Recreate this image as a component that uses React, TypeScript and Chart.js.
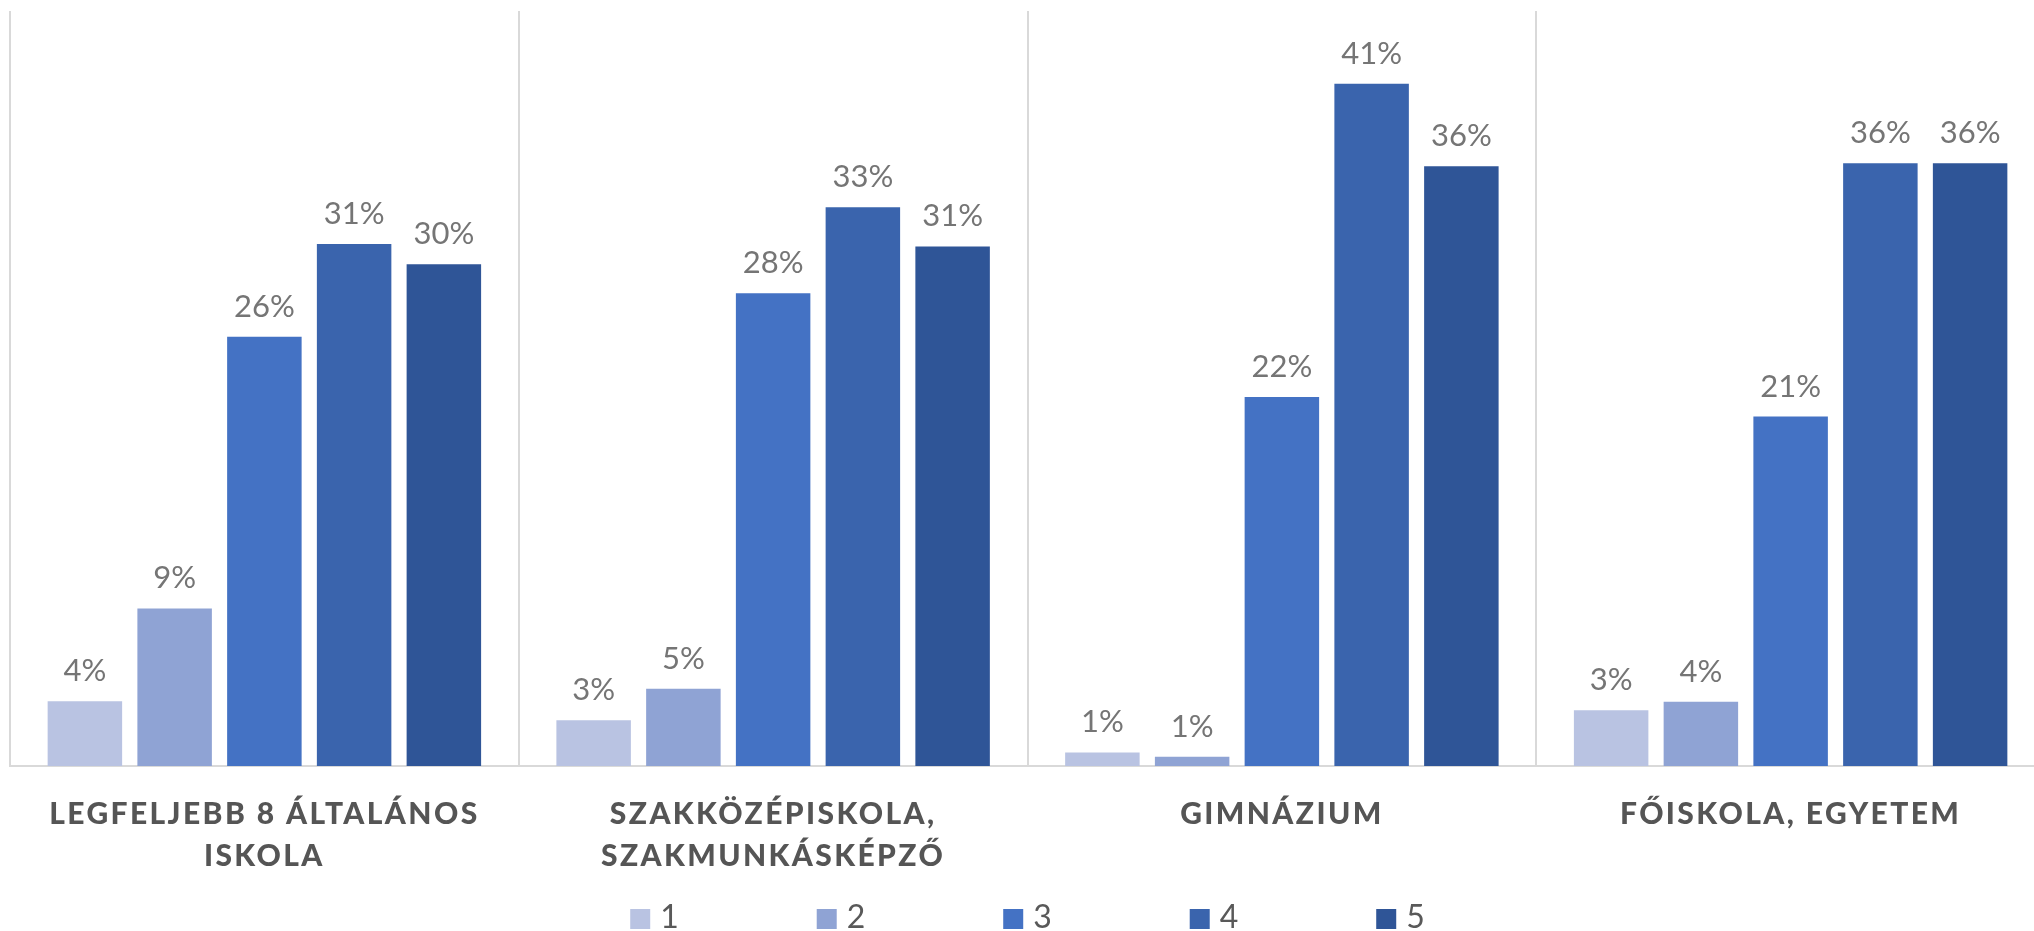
import React, { useEffect, useRef } from "react";
import { Chart, registerables } from "chart.js";

Chart.register(...registerables);

// ---- data ----
const categories: (string | string[])[] = [
  ["LEGFELJEBB 8 ÁLTALÁNOS", "ISKOLA"],
  ["SZAKKÖZÉPISKOLA,", "SZAKMUNKÁSKÉPZŐ"],
  "GIMNÁZIUM",
  "FŐISKOLA, EGYETEM",
];
const seriesNames = ["1", "2", "3", "4", "5"];
const series1 = [3.86, 2.73, 0.81, 3.33];
const series2 = [9.39, 4.6, 0.55, 3.83];
const series3 = [25.58, 28.17, 22.0, 20.83];
const series4 = [31.11, 33.3, 40.67, 35.92];
const series5 = [29.9, 30.97, 35.75, 35.92];
const seriesColors = ["#B9C3E2", "#8FA3D4", "#4472C4", "#3A64AD", "#2F5597"];
const yMax = 45;

const CANVAS_W = 2060;
const CANVAS_H = 931;
const FONT = "Lato, 'Open Sans', 'Noto Sans', sans-serif";

const styleStatePlugin = {
  id: "styleState",
  beforeDraw(chart: any) {
    chart.ctx.letterSpacing = "2.4px";
  },
  beforeDatasetsDraw(chart: any) {
    chart.ctx.letterSpacing = "0px";
  },
};

const valueLabelPlugin = {
  id: "valueLabels",
  afterDatasetsDraw(chart: any) {
    const ctx = chart.ctx;
    ctx.save();
    ctx.letterSpacing = "0px";
    ctx.font = `31px ${FONT}`;
    ctx.fillStyle = "#757575";
    ctx.textAlign = "center";
    ctx.textBaseline = "alphabetic";
    chart.data.datasets.forEach((ds: any, di: number) => {
      const meta = chart.getDatasetMeta(di);
      meta.data.forEach((bar: any, i: number) => {
        const v = ds.data[i];
        ctx.fillText(`${Math.round(v)}%`, bar.x, bar.y - 20);
      });
    });
    ctx.restore();
  },
};

const bottomLegendPlugin = {
  id: "bottomLegend",
  afterDraw(chart: any) {
    const ctx = chart.ctx;
    const area = chart.chartArea;
    ctx.save();
    ctx.letterSpacing = "0px";
    ctx.font = `32px ${FONT}`;
    ctx.textAlign = "left";
    ctx.textBaseline = "alphabetic";
    const step = 186.5;
    const box = 20;
    const gap = 10;
    const n = chart.data.datasets.length;
    const lastW = ctx.measureText(chart.data.datasets[n - 1].label).width;
    const total = (n - 1) * step + box + gap + lastW;
    const cx = (area.left + area.right) / 2;
    let x = cx - total / 2;
    const boxTop = 909;
    chart.data.datasets.forEach((ds: any) => {
      ctx.fillStyle = ds.backgroundColor;
      ctx.fillRect(x, boxTop, box, box);
      ctx.fillStyle = "#595959";
      ctx.fillText(ds.label, x + box + gap, boxTop + box - 1);
      x += step;
    });
    ctx.restore();
  },
};

export default function App() {
  const canvasRef = useRef<HTMLCanvasElement | null>(null);

  useEffect(() => {
    if (!canvasRef.current) return;
    const allSeries = [series1, series2, series3, series4, series5];
    const chart = new Chart(canvasRef.current, {
      type: "bar",
      data: {
        labels: categories,
        datasets: allSeries.map((d, i) => ({
          label: seriesNames[i],
          data: d,
          backgroundColor: seriesColors[i],
          borderWidth: 0,
          categoryPercentage: 0.882,
          barPercentage: 0.83,
        })),
      },
      options: {
        responsive: false,
        animation: false,
        devicePixelRatio: 1,
        layout: { padding: { left: 10, right: 15, top: 11, bottom: 0 } },
        plugins: {
          legend: { display: false },
          tooltip: { enabled: false },
        },
        scales: {
          x: {
            offset: true,
            grid: {
              display: true,
              offset: true,
              color: "#D9D9D9",
              lineWidth: 2,
              drawTicks: false,
            },
            border: { display: true, color: "#D9D9D9", width: 2 },
            ticks: {
              color: "#555555",
              font: { family: FONT, size: 30, weight: "900", lineHeight: 1.4 },
              padding: 27,
              maxRotation: 0,
              minRotation: 0,
              autoSkip: false,
            },
            afterFit: (scale: any) => {
              scale.height = 165;
            },
          },
          y: { display: false, min: 0, max: yMax },
        },
      },
      plugins: [styleStatePlugin, valueLabelPlugin, bottomLegendPlugin],
    } as any);
    return () => chart.destroy();
  }, []);

  return (
    <div
      style={{
        position: "fixed",
        left: 0,
        top: 0,
        width: 2034,
        height: 931,
        overflow: "hidden",
        background: "#ffffff",
      }}
    >
      <canvas
        ref={canvasRef}
        width={CANVAS_W}
        height={CANVAS_H}
        style={{ width: CANVAS_W, height: CANVAS_H, display: "block" }}
      />
    </div>
  );
}
